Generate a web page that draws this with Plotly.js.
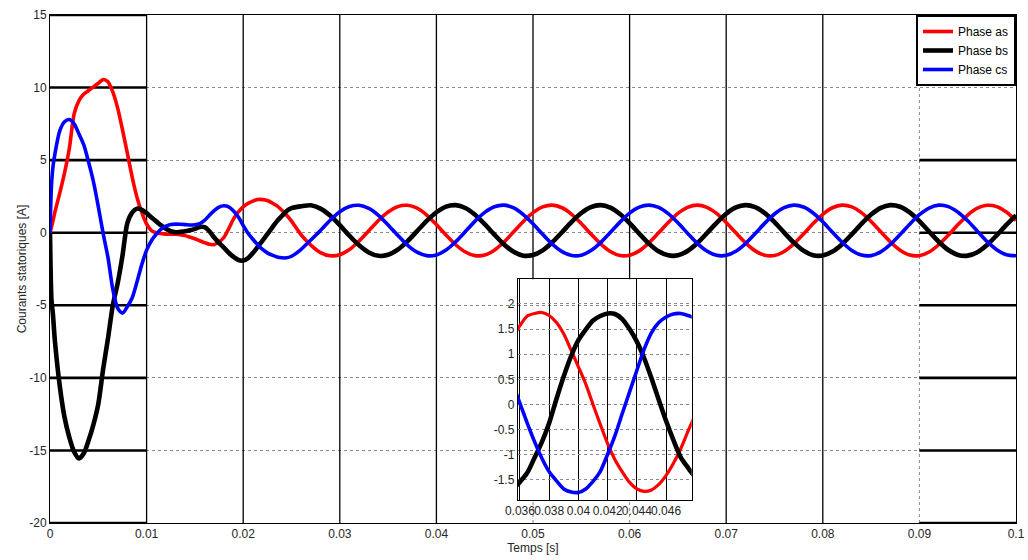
<!DOCTYPE html>
<html><head><meta charset="utf-8">
<script src="https://cdn.plot.ly/plotly-3.0.1.min.js"></script>
<style>html,body{margin:0;padding:0;background:#fff}#chart{width:1028px;height:560px}</style>
</head><body><div id="chart"></div>
<script>
// ---- main plot data (time in s, currents in A) ----
const time = [0, 0.00015, 0.0003, 0.0005, 0.001, 0.0015, 0.002, 0.0025, 0.003, 0.0035, 0.004, 0.0045, 0.005, 0.0055, 0.006, 0.0065, 0.007, 0.0075, 0.008, 0.0085, 0.009, 0.0095, 0.01, 0.0105, 0.011, 0.0115, 0.012, 0.0125, 0.013, 0.0135, 0.014, 0.0145, 0.015, 0.0155, 0.016, 0.0165, 0.017, 0.0175, 0.018, 0.0185, 0.019, 0.0195, 0.02, 0.0205, 0.021, 0.0215, 0.022, 0.0225, 0.023, 0.0235, 0.024, 0.0245, 0.025,
  0.026, 0.027, 0.028, 0.029, 0.030, 0.031, 0.032, 0.033, 0.034, 0.035, 0.036, 0.037, 0.038, 0.039, 0.040, 0.041, 0.042, 0.043, 0.044, 0.045, 0.046, 0.047, 0.048, 0.049, 0.050,
  0.051, 0.052, 0.053, 0.054, 0.055, 0.056, 0.057, 0.058, 0.059, 0.060, 0.061, 0.062, 0.063, 0.064, 0.065, 0.066, 0.067, 0.068, 0.069, 0.070, 0.071, 0.072, 0.073, 0.074, 0.075,
  0.076, 0.077, 0.078, 0.079, 0.080, 0.081, 0.082, 0.083, 0.084, 0.085, 0.086, 0.087, 0.088, 0.089, 0.090, 0.091, 0.092, 0.093, 0.094, 0.095, 0.096, 0.097, 0.098, 0.099, 0.100];

const phaseAs = [0, 0.4, 0.8, 1.4, 2.7, 4.1, 5.8, 8.2, 9.1, 9.55, 9.8, 10.05, 10.3, 10.55, 10.4, 9.7, 8.6, 7.1, 5.5, 3.85, 2.45, 1.4, 0.6, 0.15, 0.0, -0.06, -0.1, -0.1, -0.1, -0.13, -0.2, -0.31, -0.42, -0.55, -0.68, -0.8, -0.82, -0.63, -0.33, 0.28, 0.95, 1.43, 1.78, 2.02, 2.18, 2.29, 2.28, 2.22, 2.05, 1.85, 1.55, 1.2, 0.8,
  -0.15, -0.85, -1.37, -1.59, -1.52, -1.16, -0.57, 0.13, 0.84, 1.43, 1.80, 1.89, 1.69, 1.22, 0.56, -0.16, -0.83, -1.33, -1.58, -1.54, -1.20, -0.64, 0.06, 0.77, 1.38,
  1.78, 1.90, 1.72, 1.27, 0.63, -0.09, -0.77, -1.29, -1.57, -1.55, -1.25, -0.70, -0.01, 0.70, 1.33, 1.75, 1.90, 1.75, 1.33, 0.70, -0.01, -0.70, -1.25, -1.55, -1.57,
  -1.29, -0.77, -0.09, 0.63, 1.27, 1.72, 1.90, 1.78, 1.38, 0.77, 0.06, -0.64, -1.20, -1.54, -1.58, -1.33, -0.83, -0.16, 0.56, 1.22, 1.69, 1.89, 1.80, 1.43, 0.84];

const phaseBs = [0, -4.6, -5.6, -7.4, -10.5, -12.7, -14.1, -15.1, -15.55, -15.2, -14.3, -13.2, -11.8, -9.4, -7.3, -5.0, -3.5, -1.6, 0.65, 1.38, 1.66, 1.58, 1.35, 1.05, 0.78, 0.5, 0.28, 0.1, 0.03, 0.06, 0.1, 0.17, 0.27, 0.4, 0.38, 0.1, -0.33, -0.7, -1.03, -1.38, -1.67, -1.88, -1.92, -1.75, -1.4, -0.98, -0.55, -0.1, 0.35, 0.8, 1.15, 1.5, 1.7,
  1.82, 1.89, 1.66, 1.18, 0.52, -0.21, -0.87, -1.36, -1.59, -1.52, -1.17, -0.60, 0.11, 0.82, 1.41, 1.80, 1.90, 1.70, 1.24, 0.59, -0.13, -0.81, -1.32, -1.58, -1.54,
  -1.22, -0.66, 0.03, 0.75, 1.36, 1.77, 1.90, 1.73, 1.29, 0.66, -0.06, -0.75, -1.28, -1.56, -1.56, -1.26, -0.73, -0.04, 0.68, 1.31, 1.74, 1.90, 1.76, 1.35, 0.73,
  0.01, -0.68, -1.23, -1.55, -1.57, -1.30, -0.79, -0.11, 0.61, 1.25, 1.71, 1.90, 1.79, 1.40, 0.80, 0.08, -0.62, -1.19, -1.53, -1.58, -1.34, -0.85, -0.18, 0.54, 1.20];

const phaseCs = [0, 3.2, 4.5, 5.4, 7.0, 7.65, 7.8, 7.5, 6.8, 6.05, 4.85, 3.5, 1.8, -0.05, -1.7, -3.9, -5.2, -5.55, -5.1, -4.5, -3.4, -2.2, -1.2, -0.55, -0.1, 0.25, 0.45, 0.57, 0.59, 0.58, 0.56, 0.53, 0.55, 0.63, 0.85, 1.2, 1.52, 1.77, 1.86, 1.78, 1.5, 1.08, 0.5, -0.04, -0.45, -0.83, -1.15, -1.39, -1.55, -1.67, -1.73, -1.73, -1.62,
  -1.14, -0.5, 0.16, 0.86, 1.45, 1.81, 1.89, 1.67, 1.20, 0.54, -0.18, -0.85, -1.34, -1.58, -1.53, -1.19, -0.62, 0.08, 0.80, 1.40, 1.79, 1.90, 1.71, 1.25, 0.61,
  -0.11, -0.79, -1.30, -1.57, -1.55, -1.23, -0.68, 0.01, 0.73, 1.35, 1.76, 1.90, 1.74, 1.31, 0.68, -0.04, -0.73, -1.26, -1.56, -1.56, -1.28, -0.75, -0.06, 0.66, 1.29,
  1.73, 1.90, 1.77, 1.36, 0.75, 0.03, -0.66, -1.22, -1.54, -1.58, -1.32, -0.81, -0.13, 0.59, 1.24, 1.70, 1.90, 1.80, 1.41, 0.82, 0.11, -0.60, -1.17, -1.52, -1.59];

// ---- zoomed inset data ----
const zoomTime = [0.0355, 0.036, 0.0365, 0.037, 0.0375, 0.038, 0.0385, 0.039, 0.0395, 0.040, 0.0405, 0.041, 0.0415, 0.042, 0.0425, 0.043, 0.0435, 0.044, 0.0445, 0.045, 0.0455, 0.046, 0.0465, 0.047, 0.0475, 0.048];
const zoomAs = [1.33, 1.57, 1.76, 1.81, 1.83, 1.77, 1.63, 1.40, 1.08, 0.75, 0.41, 0.0, -0.40, -0.78, -1.10, -1.34, -1.55, -1.68, -1.73, -1.70, -1.59, -1.41, -1.17, -0.88, -0.53, -0.2];
const zoomBs = [-1.69, -1.54, -1.36, -1.06, -0.75, -0.37, 0.11, 0.56, 0.96, 1.28, 1.49, 1.67, 1.76, 1.81, 1.80, 1.70, 1.50, 1.25, 0.92, 0.52, 0.09, -0.33, -0.71, -1.05, -1.26, -1.45];
const zoomCs = [0.42, 0.02, -0.37, -0.74, -1.07, -1.34, -1.52, -1.68, -1.74, -1.75, -1.68, -1.53, -1.33, -0.99, -0.62, -0.18, 0.25, 0.68, 1.10, 1.43, 1.63, 1.74, 1.80, 1.81, 1.77, 1.72];

// ---- ticks / labels ----
const seriesNames = ['Phase as', 'Phase bs', 'Phase cs'];
const xTickVals = [0, 0.01, 0.02, 0.03, 0.04, 0.05, 0.06, 0.07, 0.08, 0.09, 0.1];
const xTickText = ['0', '0.01', '0.02', '0.03', '0.04', '0.05', '0.06', '0.07', '0.08', '0.09', '0.1'];
const yTickVals = [-20, -15, -10, -5, 0, 5, 10, 15];
const yTickText = ['-20', '-15', '-10', '-5', '0', '5', '10', '15'];
const zoomXTickVals = [0.036, 0.038, 0.040, 0.042, 0.044, 0.046];
const zoomXTickText = ['0.036', '0.038', '0.04', '0.042', '0.044', '0.046'];
const zoomYTickVals = [-1.5, -1, -0.5, 0, 0.5, 1, 1.5, 2];
const zoomYTickText = ['-1.5', '-1', '-0.5', '0', '0.5', '1', '1.5', '2'];

// ---- styling ----
const colors = ['#ff0000', '#000000', '#0000ff'];
const mainWidths = [3.6, 4.6, 3.6];
const zoomWidths = [3.2, 4.6, 3.6];
const insetX = [0.4842, 0.6643];
const insetY = [0.0453, 0.4797];
const yMin = -20, yMax = 15;

const mainY = [phaseAs, phaseBs, phaseCs];
const zoomY = [zoomAs, zoomBs, zoomCs];
const traces = [];
mainY.forEach((ys, i) => traces.push({
  x: time, y: ys, name: seriesNames[i], type: 'scatter', mode: 'lines',
  line: {color: colors[i], width: mainWidths[i], shape: 'spline', smoothing: 0.7},
  xaxis: 'x', yaxis: 'y', hoverinfo: 'skip'
}));
zoomY.forEach((ys, i) => traces.push({
  x: zoomTime, y: ys, name: seriesNames[i], type: 'scatter', mode: 'lines', showlegend: false,
  line: {color: colors[i], width: zoomWidths[i], shape: 'spline', smoothing: 0.7},
  xaxis: 'x2', yaxis: 'y2', hoverinfo: 'skip'
}));

// grid emulation shapes
const insetTopVal = yMin + (yMax - yMin) * insetY[1];
const insetBotVal = yMin + (yMax - yMin) * insetY[0];
const shapes = [];
const solidV = [0.01, 0.02, 0.03, 0.04, 0.07, 0.08];
const splitV = [0.05, 0.06];
const dotV = [0.09];
const leftBandY = [15, 10, 5, 0, -5, -10, -15, -20];
const rightBandY = [5, 0, -5, -10, -15, -20];
const vline = (x, y0, y1, color, width, dash) => ({type: 'line', xref: 'x', yref: 'y', x0: x, x1: x, y0: y0, y1: y1, layer: 'between', line: {color: color, width: width, dash: dash || 'solid'}});
const hline = (y, x0, x1, width) => ({type: 'line', xref: 'x', yref: 'y', x0: x0, x1: x1, y0: y, y1: y, layer: 'between', line: {color: '#000', width: width}});
solidV.forEach(x => shapes.push(vline(x, yMin, yMax, '#000', 1.3)));
splitV.forEach(x => { shapes.push(vline(x, insetTopVal, yMax, '#000', 1.3)); shapes.push(vline(x, yMin, insetBotVal, '#8a8a8a', 1, 'dot')); });
dotV.forEach(x => shapes.push(vline(x, yMin, yMax, '#8a8a8a', 1, 'dot')));
leftBandY.forEach(y => shapes.push(hline(y, 0, 0.01, 2.6)));
rightBandY.forEach(y => shapes.push(hline(y, 0.09, 0.1, 2.6)));

const axisFont = {family: 'Liberation Sans, Arial, sans-serif', size: 12, color: '#262626'};
const layout = {
  width: 1028, height: 560,
  margin: {l: 50, r: 12, t: 15, b: 37},
  paper_bgcolor: '#ffffff', plot_bgcolor: 'rgba(0,0,0,0)',
  font: axisFont,
  showlegend: true,
  xaxis: {domain: [0, 1], range: [0, 0.1], tickvals: xTickVals, ticktext: xTickText, tickangle: 0,
    showgrid: false, zeroline: false, showline: true, mirror: true, linecolor: '#000', linewidth: 1,
    ticks: '', tickfont: axisFont, automargin: false,
    title: {text: 'Temps [s]', font: axisFont, standoff: 2}},
  yaxis: {domain: [0, 1], range: [yMin, yMax], tickvals: yTickVals, ticktext: yTickText,
    showgrid: true, gridcolor: '#8a8a8a', griddash: 'dot', gridwidth: 1,
    zeroline: false, showline: true, mirror: true, linecolor: '#000', linewidth: 1,
    ticks: '', tickfont: axisFont, automargin: false,
    title: {text: 'Courants statoriques [A]', font: axisFont, standoff: 0}},
  xaxis2: {domain: insetX, anchor: 'y2', range: [0.03585, 0.04775], tickvals: zoomXTickVals, ticktext: zoomXTickText, tickangle: 0,
    showgrid: true, gridcolor: '#000', gridwidth: 1, zeroline: false,
    showline: true, mirror: true, linecolor: '#000', linewidth: 1, ticks: '', tickfont: axisFont, automargin: false},
  yaxis2: {domain: insetY, anchor: 'x2', range: [-1.9, 2.49], tickvals: zoomYTickVals, ticktext: zoomYTickText,
    showgrid: true, gridcolor: '#8a8a8a', griddash: 'dot', gridwidth: 1, zeroline: false,
    showline: true, mirror: true, linecolor: '#000', linewidth: 1, ticks: '', tickfont: axisFont, automargin: false},
  legend: {x: 1, y: 1, xanchor: 'right', yanchor: 'top', bgcolor: '#ffffff', bordercolor: '#000', borderwidth: 2,
    font: {family: 'Liberation Sans, Arial, sans-serif', size: 12, color: '#000'}, tracegroupgap: 0, itemwidth: 30},
  shapes: shapes
};
Plotly.newPlot('chart', traces, layout, {staticPlot: true, displayModeBar: false});
</script>
</body></html>
